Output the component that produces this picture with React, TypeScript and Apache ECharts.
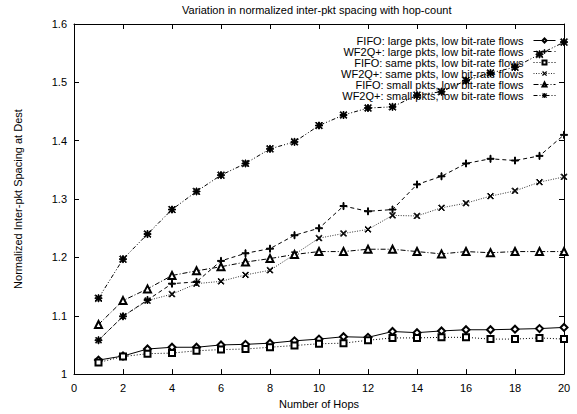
import React, { useEffect, useRef } from "react";
import * as echarts from "echarts";

const hops = [1, 2, 3, 4, 5, 6, 7, 8, 9, 10, 11, 12, 13, 14, 15, 16, 17, 18, 19, 20];
const fifoLarge = [1.024, 1.031, 1.043, 1.046, 1.046, 1.05, 1.051, 1.053, 1.057, 1.06, 1.064, 1.063, 1.073, 1.071, 1.074, 1.076, 1.076, 1.077, 1.078, 1.08];
const wf2qLarge = [1.058, 1.099, 1.127, 1.155, 1.158, 1.194, 1.207, 1.215, 1.238, 1.25, 1.288, 1.279, 1.282, 1.325, 1.339, 1.361, 1.369, 1.366, 1.374, 1.41];
const fifoSame = [1.02, 1.03, 1.035, 1.036, 1.04, 1.042, 1.043, 1.046, 1.049, 1.052, 1.053, 1.058, 1.062, 1.062, 1.063, 1.063, 1.06, 1.06, 1.062, 1.06];
const wf2qSame = [1.058, 1.099, 1.126, 1.137, 1.155, 1.159, 1.17, 1.178, 1.205, 1.233, 1.241, 1.248, 1.272, 1.271, 1.285, 1.293, 1.305, 1.314, 1.329, 1.338];
const fifoSmall = [1.085, 1.126, 1.146, 1.169, 1.177, 1.184, 1.192, 1.198, 1.205, 1.21, 1.21, 1.214, 1.214, 1.21, 1.206, 1.21, 1.208, 1.21, 1.21, 1.21];
const wf2qSmall = [1.13, 1.197, 1.24, 1.282, 1.313, 1.341, 1.361, 1.386, 1.398, 1.426, 1.444, 1.456, 1.458, 1.478, 1.484, 1.503, 1.516, 1.526, 1.548, 1.569];

const seriesNames = [
  "FIFO: large pkts, low bit-rate flows",
  "WF2Q+: large pkts, low bit-rate flows",
  "FIFO: same pkts, low bit-rate flows",
  "WF2Q+: same pkts, low bit-rate flows",
  "FIFO: small pkts, low bit-rate flows",
  "WF2Q+: small pkts, low bit-rate flows",
];

const titleText = "Variation in normalized inter-pkt spacing with hop-count";
const xName = "Number of Hops";
const yName = "Normalized Inter-pkt Spacing at Dest";

const PLUS = "path://M4.3,0H5.7V4.3H10V5.7H5.7V10H4.3V5.7H0V4.3H4.3Z";
const CROSS = "path://M1,0L5,4L9,0L10,1L6,5L10,9L9,10L5,6L1,10L0,9L4,5L0,1Z";
const STAR =
  "path://M4.3,0H5.7V4.3H10V5.7H5.7V10H4.3V5.7H0V4.3H4.3Z M1,0L5,4L9,0L10,1L6,5L10,9L9,10L5,6L1,10L0,9L4,5L0,1Z";

const FONT = "'Liberation Sans', Arial, sans-serif";

export default function App() {
  const ref = useRef<HTMLDivElement>(null);
  useEffect(() => {
    if (!ref.current) return;
    const chart = echarts.init(ref.current, undefined, { renderer: "svg" });
    const pairs = (vals: number[]) => hops.map((h, i) => [h, vals[i]]);
    const styles = [
      { data: fifoLarge, symbol: "emptyDiamond", size: 7, type: "solid" as any, color: "#000" },
      { data: wf2qLarge, symbol: PLUS, size: 7, type: [4, 3], color: "#000" },
      { data: fifoSame, symbol: "emptyRect", size: 6, type: [1, 2], color: "#000" },
      { data: wf2qSame, symbol: CROSS, size: 6, type: [1, 1.5], color: "#333" },
      { data: fifoSmall, symbol: "emptyTriangle", size: 7, type: [5, 2, 1, 2], color: "#000" },
      { data: wf2qSmall, symbol: STAR, size: 7, type: [4, 2, 1, 2, 1, 2], color: "#000" },
    ];
    const tickStyle = { show: true, inside: true, length: 5, lineStyle: { color: "#000", width: 1 } };
    const lineAx = { show: true, onZero: false, lineStyle: { color: "#000", width: 1 } };
    chart.setOption({
      animation: false,
      backgroundColor: "#fff",
      textStyle: { fontFamily: FONT },
      title: {
        text: titleText,
        left: 177,
        top: -1,
        textStyle: { fontSize: 11, fontWeight: "normal", color: "#000", fontFamily: FONT },
      },
      legend: {
        orient: "vertical",
        right: 21,
        top: 35,
        align: "right",
        itemWidth: 22,
        itemHeight: 5,
        itemGap: 0,
        padding: 0,
        lineStyle: { width: 1 },
        itemStyle: { borderWidth: 1 },
        textStyle: { fontSize: 11, color: "#000", lineHeight: 10.5, fontFamily: FONT, padding: [0, 5, 0, 0] },
        data: seriesNames,
      },
      grid: { left: 74, right: 13, top: 24, bottom: 32, containLabel: false },
      xAxis: [
        {
          type: "value",
          min: 0,
          max: 20,
          interval: 2,
          name: xName,
          nameLocation: "middle",
          nameGap: 21,
          nameTextStyle: { fontSize: 11, color: "#000", fontFamily: FONT },
          axisLine: lineAx,
          axisTick: tickStyle,
          axisLabel: { fontSize: 11, color: "#000", margin: 8, fontFamily: FONT },
          splitLine: { show: false },
        },
        {
          type: "value",
          position: "top",
          min: 0,
          max: 20,
          interval: 2,
          axisLine: lineAx,
          axisTick: tickStyle,
          axisLabel: { show: false },
          splitLine: { show: false },
        },
      ],
      yAxis: [
        {
          type: "value",
          min: 1,
          max: 1.6,
          interval: 0.1,
          name: yName,
          nameLocation: "middle",
          nameGap: 51,
          nameRotate: 90,
          nameTextStyle: { fontSize: 11, color: "#000", fontFamily: FONT },
          axisLine: lineAx,
          axisTick: tickStyle,
          axisLabel: {
            fontSize: 11,
            color: "#000",
            margin: 7,
            fontFamily: FONT,
            formatter: (v: number) => String(+v.toFixed(1)),
          },
          splitLine: { show: false },
        },
        {
          type: "value",
          position: "right",
          min: 1,
          max: 1.6,
          interval: 0.1,
          axisLine: lineAx,
          axisTick: tickStyle,
          axisLabel: { show: false },
          splitLine: { show: false },
        },
      ],
      series: styles.map((s, i) => ({
        name: seriesNames[i],
        type: "line",
        xAxisIndex: 0,
        yAxisIndex: 0,
        data: pairs(s.data),
        symbol: s.symbol,
        symbolSize: s.size,
        showAllSymbol: true,
        lineStyle: { color: s.color, width: 1, type: s.type },
        itemStyle: { color: "#000", borderColor: "#000", borderWidth: 1 },
        emphasis: { disabled: true },
      })),
    });
    return () => chart.dispose();
  }, []);
  return (
    <div
      ref={ref}
      style={{ position: "fixed", left: 0, top: 0, width: 577, height: 414, background: "#fff" }}
    />
  );
}
